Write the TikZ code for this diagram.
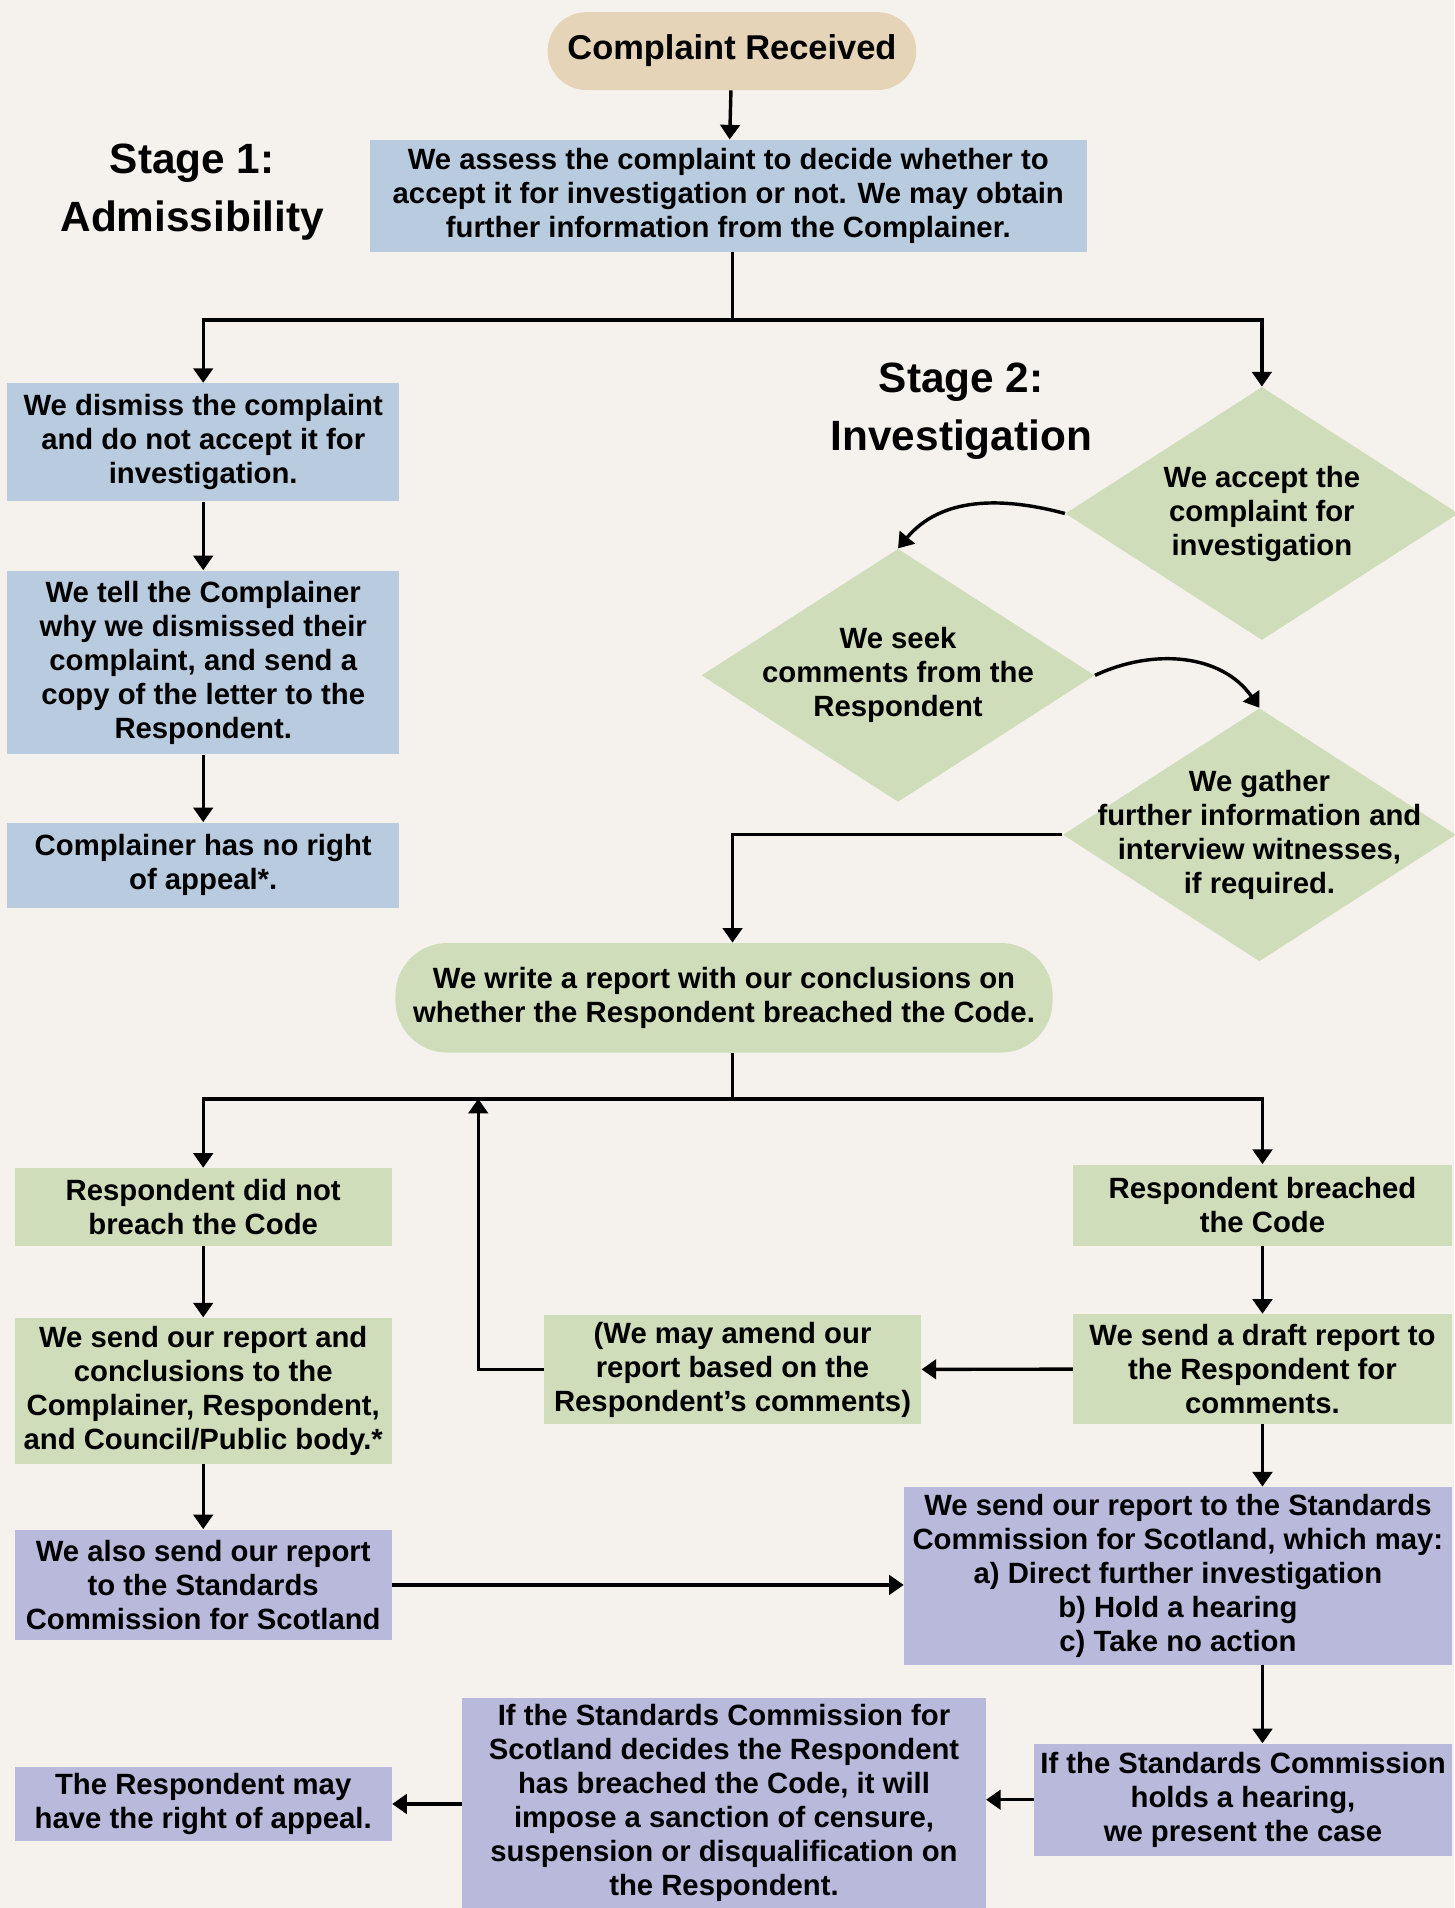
\documentclass[tikz,border=0pt]{standalone}
\usepackage{fontspec}
\setmainfont{Liberation Sans}
\usetikzlibrary{shapes.geometric,arrows.meta}
\definecolor{bgcol}{HTML}{F5F2ED}
\definecolor{tancol}{HTML}{E6D4B8}
\definecolor{bluecol}{HTML}{B9CBDE}
\definecolor{greencol}{HTML}{CFDDBA}
\definecolor{purplecol}{HTML}{B9B9DC}
\begin{document}
\begin{tikzpicture}[
  every node/.style={font=\bfseries\fontsize{13.7}{15.9}\selectfont, align=center, inner sep=0pt},
  sz/.style 2 args={minimum width=#1cm, minimum height=#2cm},
  blue/.style={rectangle, fill=bluecol},
  green/.style={rectangle, fill=greencol},
  purple/.style={rectangle, fill=purplecol},
  pill/.style={rectangle, rounded corners=#1},
  decision/.style={diamond, fill=greencol, sz={6.46}{4.16}},
  stagetxt/.style={font=\bfseries\fontsize{19.8}{26.8}\selectfont},
  conn/.style={line width=1.6pt},
  arr/.style={conn, -{Triangle[length=0.24cm,width=0.32cm]}}]
\path[use as bounding box, fill=bgcol] (0,0) rectangle (23.9,-31.36);
% stage 1
\node[pill=0.64cm, fill=tancol, sz={6.06}{1.28}, font=\bfseries\fontsize{16.1}{18}\selectfont] (recv) at (12.03,-0.84) {Complaint Received};
\node[blue, sz={11.78}{1.84}] (assess) at (11.97,-3.22) {We assess the complaint to decide whether to\\accept it for investigation or not. We may obtain\\further information from the Complainer.};
\node[stagetxt] (stage1) at (3.16,-3.16) {Stage 1:\\Admissibility};
\node[blue, sz={6.44}{1.94}] (dismiss) at (3.34,-7.27) {We dismiss the complaint\\and do not accept it for\\investigation.};
\node[blue, sz={6.44}{3.02}] (tell) at (3.34,-10.89) {We tell the Complainer\\why we dismissed their\\complaint, and send a\\copy of the letter to the\\Respondent.};
\node[blue, sz={6.44}{1.40}] (noright) at (3.34,-14.22) {Complainer has no right\\of appeal*.};
% stage 2
\node[stagetxt] (stage2) at (15.8,-6.76) {Stage 2:\\Investigation};
\node[decision, label={center:{We accept the\\complaint for\\investigation}}] (accept) at (20.74,-8.44) {};
\node[decision, label={center:{We seek\\comments from the\\Respondent}}] (seek) at (14.76,-11.1) {};
\node[decision, label={center:{We gather\\further information and\\interview witnesses,\\if required.}}] (gather) at (20.7,-13.72) {};
\node[pill=0.85cm, fill=greencol, sz={10.8}{1.8}] (write) at (11.9,-16.4) {We write a report with our conclusions on\\whether the Respondent breached the Code.};
% outcomes
\node[green, sz={6.2}{1.28}] (notbreach) at (3.34,-19.84) {Respondent did not\\breach the Code};
\node[green, sz={6.2}{2.4}] (sendrep) at (3.34,-22.86) {We send our report and\\conclusions to the\\Complainer, Respondent,\\and Council/Public body.*};
\node[purple, sz={6.2}{1.82}] (alsosend) at (3.34,-26.05) {We also send our report\\to the Standards\\Commission for Scotland};
\node[green, sz={6.22}{1.34}] (breached) at (20.75,-19.81) {Respondent breached\\the Code};
\node[green, sz={6.22}{1.8}] (draft) at (20.75,-22.5) {We send a draft report to\\the Respondent for\\comments.};
\node[green, sz={6.2}{1.78}] (amend) at (12.04,-22.51) {(We may amend our\\report based on the\\Respondent’s comments)};
\node[purple, sz={9.0}{2.92}] (standards) at (19.36,-25.9) {We send our report to the Standards\\Commission for Scotland, which may:\\a) Direct further investigation\\b) Hold a hearing\\c) Take no action};
\node[purple, sz={6.86}{1.84}] (hearing) at (20.43,-29.58) {If the Standards Commission\\holds a hearing,\\we present the case};
\node[purple, sz={8.6}{3.46}] (ifsc) at (11.9,-29.63) {If the Standards Commission for\\Scotland decides the Respondent\\has breached the Code, it will\\impose a sanction of censure,\\suspension or disqualification on\\the Respondent.};
\node[purple, sz={6.2}{1.22}] (appeal) at (3.34,-29.65) {The Respondent may\\have the right of appeal.};
\coordinate (split1) at (12.04,-5.26);
\coordinate (split2) at (12.04,-18.06);
\coordinate (back) at (7.86,-18.06);
% connectors
\draw[arr] (recv) -- (assess);
\draw[conn] (assess.south -| split1) -- (split1);
\draw[arr] (split1) -| (dismiss);
\draw[arr] (split1) -| (accept);
\draw[arr] (dismiss) -- (tell);
\draw[arr] (tell) -- (noright);
\draw[arr] (accept.west) to[out=165,in=50] (seek.north);
\draw[arr] (seek.east) to[out=25,in=125] (gather.north);
\draw[arr] (gather.west) -| (write.north -| split2);
\draw[conn] (write.south -| split2) -- (split2);
\draw[arr] (split2) -| (notbreach);
\draw[arr] (split2) -| (breached);
\draw[arr] (notbreach) -- (sendrep);
\draw[arr] (sendrep) -- (alsosend);
\draw[arr] (breached) -- (draft);
\draw[arr] (draft) -- (amend);
\draw[arr] (amend.west) -| (back);
\draw[arr] (draft.south) -- (draft.south |- standards.north);
\draw[arr] (alsosend) -- (alsosend -| standards.west);
\draw[arr] (standards.south -| breached) -- (hearing.north -| breached);
\draw[arr] (hearing) -- (hearing -| ifsc.east);
\draw[arr] (ifsc.west |- appeal) -- (appeal);
\end{tikzpicture}
\end{document}
